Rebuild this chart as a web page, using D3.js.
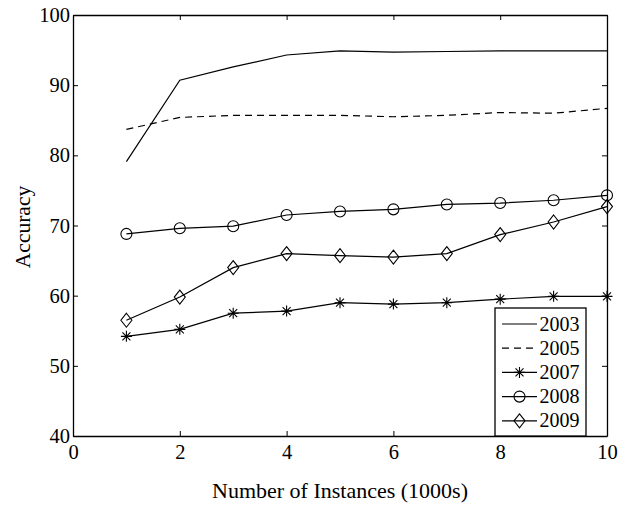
<!DOCTYPE html>
<html>
<head>
<meta charset="utf-8">
<script src="https://cdn.jsdelivr.net/npm/d3@7"></script>
<style>
  body { margin: 0; background: #fff; }
  svg { display: block; font-family: "Liberation Serif", "Times New Roman", serif; }
</style>
</head>
<body>
<div class="chart"></div>
<script>
// data
const instances = [1, 2, 3, 4, 5, 6, 7, 8, 9, 10];
const acc2003 = [79.1, 90.7, 92.6, 94.3, 94.9, 94.7, 94.8, 94.9, 94.9, 94.9];
const acc2005 = [83.7, 85.4, 85.7, 85.7, 85.7, 85.5, 85.7, 86.1, 86.0, 86.7];
const acc2007 = [54.2, 55.2, 57.5, 57.8, 59.0, 58.8, 59.0, 59.5, 59.9, 59.9];
const acc2008 = [68.8, 69.6, 69.9, 71.5, 72.0, 72.3, 73.0, 73.2, 73.6, 74.3];
const acc2009 = [56.5, 59.8, 64.0, 66.0, 65.7, 65.5, 66.0, 68.7, 70.5, 72.7];
const xTicks = [0, 2, 4, 6, 8, 10];
const yTicks = [40, 50, 60, 70, 80, 90, 100];

const series = [
  { name: "2003", values: acc2003, dash: null, marker: null },
  { name: "2005", values: acc2005, dash: "7,5", marker: null },
  { name: "2007", values: acc2007, dash: null, marker: "star" },
  { name: "2008", values: acc2008, dash: null, marker: "circle" },
  { name: "2009", values: acc2009, dash: null, marker: "diamond" }
];

const W = 630, H = 507;
const margin = { top: 15, right: 23, bottom: 71, left: 73 };
const w = W - margin.left - margin.right, h = H - margin.top - margin.bottom;

const svg = d3.select(".chart").append("svg").attr("width", W).attr("height", H);
const g = svg.append("g").attr("transform", `translate(${margin.left},${margin.top})`);

const x = d3.scaleLinear().domain([0, 10]).range([0, w]);
const y = d3.scaleLinear().domain([40, 100]).range([h, 0]);

// axes with inward ticks, box all round
function styleAxis(sel) {
  sel.attr("font-family", null);
  sel.selectAll("path.domain").attr("stroke", "#000").attr("stroke-width", 1.3);
  sel.selectAll(".tick line").attr("stroke", "#000").attr("stroke-width", 1);
  sel.selectAll("text").attr("font-size", 20.5).attr("fill", "#000");
}

g.append("g").attr("transform", `translate(0,${h})`)
  .call(d3.axisBottom(x).tickValues(xTicks).tickSizeInner(-5).tickSizeOuter(0).tickPadding(8))
  .call(styleAxis);
g.append("g")
  .call(d3.axisTop(x).tickValues(xTicks).tickSizeInner(-5).tickSizeOuter(0).tickFormat(""))
  .call(styleAxis);
g.append("g")
  .call(d3.axisLeft(y).tickValues(yTicks).tickSizeInner(-5).tickSizeOuter(0).tickPadding(3))
  .call(styleAxis);
g.append("g").attr("transform", `translate(${w},0)`)
  .call(d3.axisRight(y).tickValues(yTicks).tickSizeInner(-5).tickSizeOuter(0).tickFormat(""))
  .call(styleAxis);

// markers
function drawMarker(sel, type) {
  if (type === "circle") {
    sel.append("circle").attr("r", 5.5).attr("fill", "none").attr("stroke", "#000").attr("stroke-width", 1.1);
  } else if (type === "diamond") {
    sel.append("path").attr("d", "M0,-7L5.5,0L0,7L-5.5,0Z")
      .attr("fill", "none").attr("stroke", "#000").attr("stroke-width", 1.1);
  } else if (type === "star") {
    sel.append("path").attr("d", "M0,-5.5V5.5M-5.5,0H5.5M-4,-4L4,4M-4,4L4,-4")
      .attr("fill", "none").attr("stroke", "#000").attr("stroke-width", 1.1);
  }
}

const line = d3.line().x((d, i) => x(instances[i])).y(d => y(d));

series.forEach(s => {
  g.append("path")
    .datum(s.values)
    .attr("d", line)
    .attr("fill", "none")
    .attr("stroke", "#000")
    .attr("stroke-width", 1.2)
    .attr("stroke-dasharray", s.dash);
  if (s.marker) {
    g.selectAll(null)
      .data(s.values)
      .join("g")
      .attr("transform", (d, i) => `translate(${x(instances[i])},${y(d)})`)
      .each(function() { drawMarker(d3.select(this), s.marker); });
  }
});

// legend
const lx = 495 - margin.left, ly = 308 - margin.top, lw = 91, lh = h - ly;
const legend = g.append("g").attr("class", "legend");
legend.append("rect")
  .attr("x", lx).attr("y", ly).attr("width", lw).attr("height", lh)
  .attr("fill", "#fff").attr("stroke", "#000").attr("stroke-width", 1.3);

series.forEach((s, i) => {
  const yy = ly + 16 + i * 24.2;
  const row = legend.append("g").attr("transform", `translate(${lx},${yy})`);
  row.append("line").attr("x1", 7).attr("x2", 42).attr("y1", 0).attr("y2", 0)
    .attr("stroke", "#000").attr("stroke-width", 1.2).attr("stroke-dasharray", s.dash);
  if (s.marker) {
    const m = row.append("g").attr("transform", "translate(24.5,0)");
    drawMarker(m, s.marker);
  }
  row.append("text").attr("x", 44.5).attr("y", 6.5)
    .attr("font-size", 20).text(s.name);
});

// axis titles
svg.append("text")
  .attr("x", margin.left + w / 2).attr("y", 498)
  .attr("text-anchor", "middle").attr("font-size", 22)
  .text("Number of Instances (1000s)");

svg.append("text")
  .attr("transform", "translate(30,227) rotate(-90)")
  .attr("text-anchor", "middle").attr("font-size", 21.5)
  .text("Accuracy");
</script>
</body>
</html>
